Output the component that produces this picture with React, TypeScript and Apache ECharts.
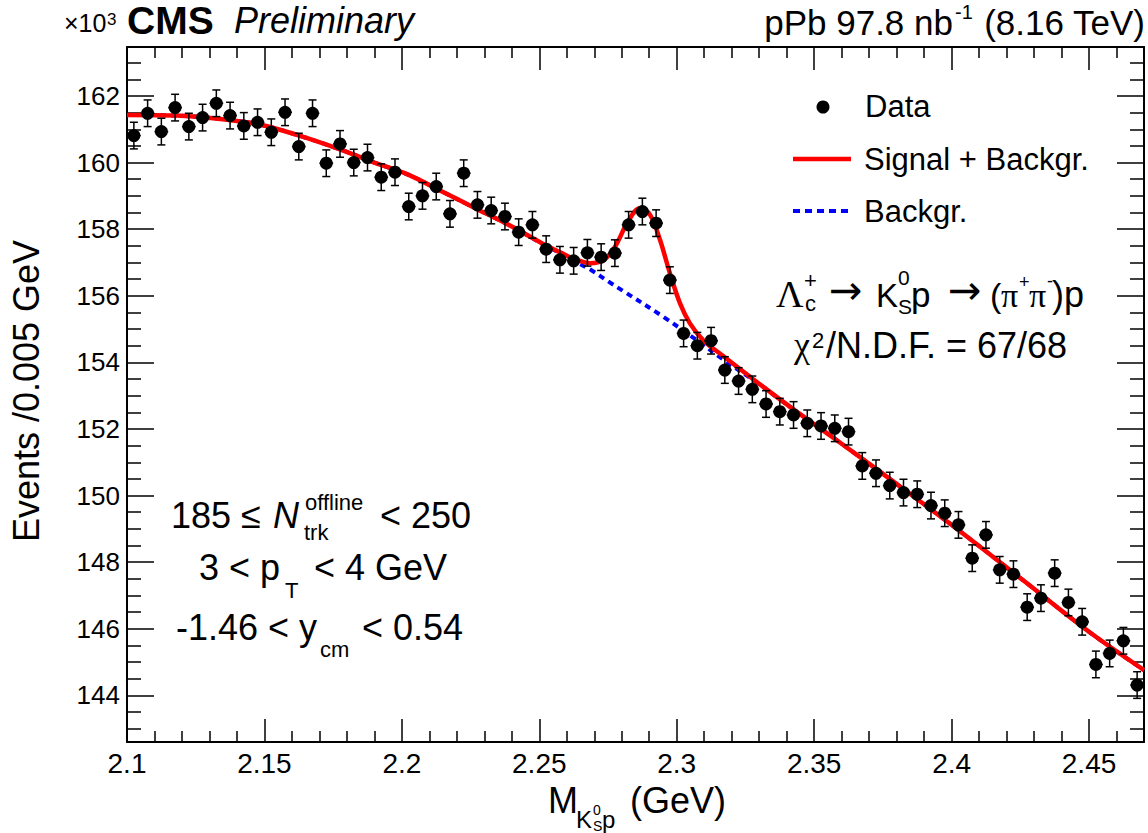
import React, { useEffect, useRef } from "react";
import * as echarts from "echarts";

// ---- Data (in units of 10^3 events per 0.005 GeV bin) ----
const massBins = [
  2.1025, 2.1075, 2.1125, 2.1175, 2.1225, 2.1275, 2.1325, 2.1375, 2.1425, 2.1475,
  2.1525, 2.1575, 2.1625, 2.1675, 2.1725, 2.1775, 2.1825, 2.1875, 2.1925, 2.1975,
  2.2025, 2.2075, 2.2125, 2.2175, 2.2225, 2.2275, 2.2325, 2.2375, 2.2425, 2.2475,
  2.2525, 2.2575, 2.2625, 2.2675, 2.2725, 2.2775, 2.2825, 2.2875, 2.2925, 2.2975,
  2.3025, 2.3075, 2.3125, 2.3175, 2.3225, 2.3275, 2.3325, 2.3375, 2.3425, 2.3475,
  2.3525, 2.3575, 2.3625, 2.3675, 2.3725, 2.3775, 2.3825, 2.3875, 2.3925, 2.3975,
  2.4025, 2.4075, 2.4125, 2.4175, 2.4225, 2.4275, 2.4325, 2.4375, 2.4425, 2.4475,
  2.4525, 2.4575, 2.4625, 2.4675,
];

const events = [
  160.81, 161.48, 160.93, 161.65, 161.08, 161.35, 161.78, 161.41, 161.10, 161.21,
  160.91, 161.51, 160.48, 161.48, 159.98, 160.56, 160.00, 160.15, 159.56, 159.71,
  158.68, 159.00, 159.28, 158.46, 159.68, 158.73, 158.56, 158.38, 157.91, 158.13,
  157.40, 157.08, 157.05, 157.29, 157.16, 157.28, 158.13, 158.53, 158.18, 156.47,
  154.87, 154.50, 154.65, 153.77, 153.44, 153.19, 152.75, 152.52, 152.42, 152.17,
  152.09, 152.02, 151.92, 150.89, 150.67, 150.30, 150.09, 150.04, 149.70, 149.47,
  149.12, 148.12, 148.82, 147.77, 147.64, 146.65, 146.92, 147.67, 146.79, 146.21,
  144.93, 145.26, 145.64, 144.31,
];

// error bar half-height (10^3 events)
const eventError = 0.4;
const binHalfWidth = 0.0025;

// Signal + background fit curve
const fitMass = [
  2.1, 2.118, 2.134, 2.149, 2.163, 2.178, 2.19, 2.2025, 2.2146, 2.2267,
  2.2388, 2.2509, 2.2582, 2.263, 2.2685, 2.2735, 2.2776, 2.2824, 2.2866, 2.2903,
  2.2939, 2.2975, 2.3012, 2.3048, 2.3096, 2.3169, 2.329, 2.3436, 2.3581, 2.3775,
  2.4016, 2.4258, 2.45, 2.47,
];
const fitValue = [
  161.43, 161.41, 161.31, 161.13, 160.8, 160.38, 160.0, 159.63, 159.13, 158.63,
  158.13, 157.58, 157.28, 157.1, 156.98, 157.08, 157.48, 158.25, 158.63, 158.43,
  157.68, 156.68, 155.77, 155.17, 154.67, 154.19, 153.42, 152.52, 151.67, 150.5,
  149.02, 147.47, 145.91, 144.76,
];

// Background-only curve
const bkgMass = [
  2.1, 2.118, 2.134, 2.149, 2.163, 2.178, 2.19, 2.2025, 2.2146, 2.2267,
  2.2388, 2.2509, 2.258, 2.263, 2.2691, 2.2751, 2.28, 2.2951, 2.3072, 2.317,
  2.329, 2.3436, 2.3581, 2.3775, 2.4016, 2.4258, 2.45, 2.47,
];
const bkgValue = [
  161.43, 161.41, 161.31, 161.13, 160.8, 160.38, 160.0, 159.63, 159.13, 158.63,
  158.13, 157.57, 157.26, 157.03, 156.76, 156.43, 156.17, 155.37, 154.67, 154.08,
  153.4, 152.52, 151.67, 150.5, 149.02, 147.47, 145.91, 144.76,
];

const xMin = 2.1;
const xMax = 2.47;
const xStep = 0.05;
const yMin = 142.6;
const yMax = 163.47;

const SANS = "'Liberation Sans', Arial, Helvetica, sans-serif";
const SERIF = "'Liberation Serif', 'Times New Roman', serif";
const ARROW = "'DejaVu Sans', sans-serif";

type TOpt = { family?: string; weight?: string; style?: string; align?: string; lineHeight?: number };

function txt(x: number, baseline: number, text: string, size: number, opt: TOpt = {}) {
  const style: any = {
    text,
    fontSize: size,
    fontFamily: opt.family || SANS,
    fontWeight: opt.weight || "normal",
    fontStyle: opt.style || "normal",
    fill: "#000",
    align: opt.align || "left",
    verticalAlign: "middle",
  };
  if (opt.lineHeight) style.lineHeight = opt.lineHeight;
  return {
    type: "text",
    x,
    y: baseline - 0.35 * size,
    silent: true,
    z: 100,
    style,
  };
}

function arrow(x: number, centerY: number) {
  return {
    type: "text",
    x,
    y: centerY - 2,
    silent: true,
    z: 100,
    style: { text: "→", fontSize: 40, fontFamily: ARROW, fill: "#000", align: "left", verticalAlign: "middle" },
  };
}

function buildOption() {
  const axisLine = { show: true, onZero: false, lineStyle: { color: "#000", width: 2 } };
  const xBase: any = {
    type: "value",
    min: xMin,
    max: xMax,
    interval: xStep,
    axisLine,
    axisTick: { show: true, inside: true, length: 23, lineStyle: { color: "#000", width: 1.5 } },
    minorTick: { show: true, splitNumber: 5, length: 11, lineStyle: { color: "#000", width: 1.5 } },
    splitLine: { show: false },
    minorSplitLine: { show: false },
  };
  const yBase: any = {
    type: "value",
    min: yMin,
    max: yMax,
    splitNumber: 10,
    minInterval: 2,
    maxInterval: 2,
    axisLine,
    axisTick: { show: true, inside: true, length: 27, lineStyle: { color: "#000", width: 1.5 } },
    minorTick: { show: true, splitNumber: 4, length: 14, lineStyle: { color: "#000", width: 1.5 } },
    splitLine: { show: false },
    minorSplitLine: { show: false },
  };

  const graphic: any[] = [
    // header
    txt(64, 32, "×10", 25, { lineHeight: 26 }),
    txt(107, 25, "3", 17),
    txt(127, 34, "CMS", 39, { weight: "bold", lineHeight: 30 }),
    txt(234, 33, "Preliminary", 36, { style: "italic", lineHeight: 30 }),
    txt(953, 35, "pPb 97.8 nb", 35, { align: "right", lineHeight: 32 }),
    txt(955, 19, "-1", 20),
    txt(1145, 35, "(8.16 TeV)", 35, { align: "right", lineHeight: 32 }),
    // legend
    { type: "circle", shape: { cx: 823, cy: 107, r: 6.5 }, style: { fill: "#000" }, z: 100, silent: true },
    txt(865, 117, "Data", 31),
    { type: "line", shape: { x1: 793, y1: 159, x2: 851, y2: 159 }, style: { stroke: "#ff0000", lineWidth: 4.5 }, z: 100, silent: true },
    txt(864, 170, "Signal + Backgr.", 31),
    { type: "line", shape: { x1: 793, y1: 211, x2: 851, y2: 211 }, style: { stroke: "#0000ff", lineWidth: 4, lineDash: [7, 5] }, z: 100, silent: true },
    txt(864, 222, "Backgr.", 31),
    // decay formula
    txt(776, 307, "Λ", 38, { family: SERIF }),
    txt(804, 288, "+", 22),
    txt(805, 311, "c", 22),
    arrow(829, 292),
    txt(876, 307, "K", 33),
    txt(898, 285, "0", 21),
    txt(898, 314, "S", 21),
    txt(911, 307, "p", 35),
    arrow(948, 292),
    txt(990, 307, "(", 34),
    txt(1001, 307, "π", 34, { family: SERIF }),
    txt(1019, 288, "+", 18),
    txt(1029, 307, "π", 34, { family: SERIF }),
    txt(1047, 287, "-", 18),
    txt(1052, 307, ")p", 36),
    // chi2
    txt(794, 358, "χ", 36, { family: SERIF }),
    txt(812, 348, "2", 22),
    txt(826, 358, "/N.D.F. = 67/68", 36),
    // selection block
    txt(171, 528, "185 ≤ ", 36),
    txt(273, 528, "N", 36, { style: "italic" }),
    txt(305, 510, "offline", 22),
    txt(304, 540, "trk", 22),
    txt(380, 528, "< 250", 36),
    txt(199, 580, "3 < p", 36),
    txt(285, 598, "T", 22),
    txt(314, 580, "< 4 GeV", 36),
    txt(176, 640, "-1.46 < y", 36),
    txt(320, 657, "cm", 22),
    txt(362, 640, "< 0.54", 36),
    // x axis title
    txt(548, 813, "M", 36, { lineHeight: 30 }),
    txt(576, 828, "K", 24, { lineHeight: 18 }),
    txt(593, 815, "0", 14, { lineHeight: 11 }),
    txt(593, 831, "S", 14, { lineHeight: 11 }),
    txt(602, 828, "p", 24, { lineHeight: 18 }),
    txt(630, 813, "(GeV)", 36, { lineHeight: 30 }),
    // y axis title
    {
      type: "text",
      x: 26,
      y: 391,
      rotation: Math.PI / 2,
      silent: true,
      z: 100,
      style: {
        text: "Events /0.005 GeV",
        fontSize: 36,
        fontFamily: SANS,
        fill: "#000",
        align: "center",
        verticalAlign: "middle",
      },
    },
  ];

  const pointData = massBins.map((m, i) => [m, events[i], eventError]);

  return {
    animation: false,
    backgroundColor: "#ffffff",
    textStyle: { fontFamily: SANS, color: "#000" },
    grid: { left: 127, right: 4, top: 47, bottom: 91, outerBoundsMode: "none" },
    xAxis: [
      {
        ...xBase,
        position: "bottom",
        axisLabel: {
          show: true,
          fontSize: 28,
          color: "#000",
          fontFamily: SANS,
          margin: 7,
          showMaxLabel: false,
          formatter: (v: number) => {
            const k = v / xStep;
            if (Math.abs(k - Math.round(k)) > 1e-6) return "";
            return String(Number(v.toFixed(3)));
          },
        },
      },
      { ...xBase, position: "top", axisLabel: { show: false } },
    ],
    yAxis: [
      {
        ...yBase,
        position: "left",
        axisLabel: {
          show: true,
          fontSize: 26,
          color: "#000",
          fontFamily: SANS,
          margin: 7,
          showMinLabel: false,
          showMaxLabel: false,
          formatter: (v: number) => {
            const r = Math.round(v);
            if (Math.abs(v - r) > 1e-6 || r % 2 !== 0) return "";
            return String(r);
          },
        },
      },
      { ...yBase, position: "right", axisLabel: { show: false } },
    ],
    graphic,
    series: [
      {
        type: "line",
        name: "Backgr.",
        data: bkgMass.map((m, i) => [m, bkgValue[i]]),
        showSymbol: false,
        symbol: "none",
        smooth: 0.35,
        lineStyle: { color: "#0000ff", width: 4, type: [6, 5], opacity: 1 },
        z: 2,
        silent: true,
      },
      {
        type: "line",
        name: "Signal + Backgr.",
        data: fitMass.map((m, i) => [m, fitValue[i]]),
        showSymbol: false,
        symbol: "none",
        smooth: 0.35,
        lineStyle: { color: "#ff0000", width: 4.5, opacity: 1 },
        z: 3,
        silent: true,
      },
      {
        type: "custom",
        name: "errors",
        data: pointData,
        z: 4,
        silent: true,
        renderItem: (params: any, api: any) => {
          const x = api.value(0);
          const y = api.value(1);
          const e = api.value(2);
          const top = api.coord([x, y + e]);
          const bot = api.coord([x, y - e]);
          const left = api.coord([x - binHalfWidth, y]);
          const right = api.coord([x + binHalfWidth, y]);
          const st = { stroke: "#000", lineWidth: 1.5 };
          return {
            type: "group",
            children: [
              { type: "line", shape: { x1: top[0], y1: top[1], x2: bot[0], y2: bot[1] }, style: st },
              { type: "line", shape: { x1: top[0] - 4, y1: top[1], x2: top[0] + 4, y2: top[1] }, style: st },
              { type: "line", shape: { x1: bot[0] - 4, y1: bot[1], x2: bot[0] + 4, y2: bot[1] }, style: st },
              { type: "line", shape: { x1: left[0], y1: left[1], x2: right[0], y2: right[1] }, style: st },
            ],
          };
        },
      },
      {
        type: "scatter",
        name: "Data",
        data: massBins.map((m, i) => [m, events[i]]),
        symbol: "circle",
        symbolSize: 13,
        itemStyle: { color: "#000", opacity: 1 },
        z: 5,
        silent: true,
      },
    ],
  };
}

export default function App() {
  const ref = useRef<HTMLDivElement>(null);
  useEffect(() => {
    if (!ref.current) return;
    const chart = echarts.init(ref.current, null, { renderer: "svg" });
    chart.setOption(buildOption() as any);
    return () => {
      chart.dispose();
    };
  }, []);
  return (
    <div
      ref={ref}
      style={{ position: "fixed", left: 0, top: 0, width: 1148, height: 833, background: "#fff" }}
    />
  );
}
